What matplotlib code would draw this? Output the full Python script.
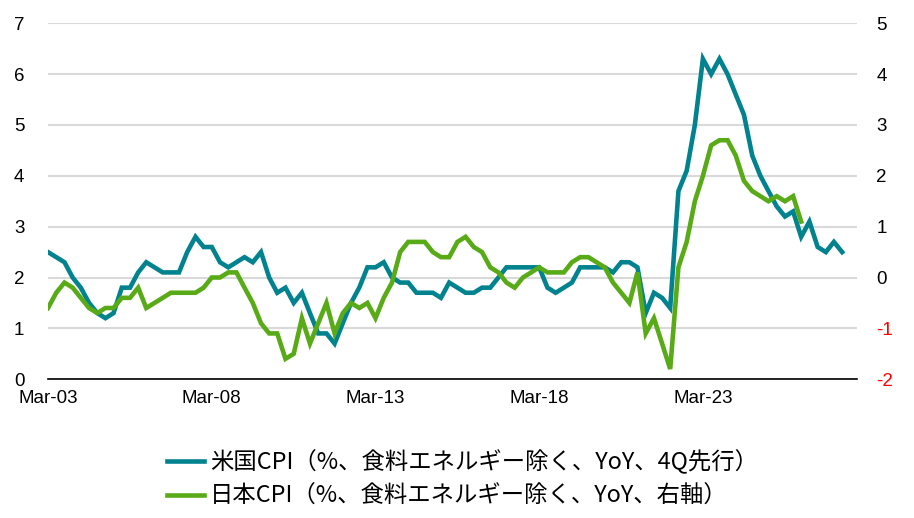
import numpy as np
import pandas as pd
import matplotlib
matplotlib.use("Agg")
from matplotlib import pyplot as plt
import matplotlib.dates as mdates

# 米国CPI（コア, YoY, 4四半期先行させた系列）: 2003年3月から四半期ごと
us_cpi = [2.5, 2.4, 2.3, 2.0, 1.8, 1.5, 1.3, 1.2, 1.3, 1.8,
          1.8, 2.1, 2.3, 2.2, 2.1, 2.1, 2.1, 2.5, 2.8, 2.6,
          2.6, 2.3, 2.2, 2.3, 2.4, 2.3, 2.5, 2.0, 1.7, 1.8,
          1.5, 1.7, 1.3, 0.9, 0.9, 0.7, 1.1, 1.5, 1.8, 2.2,
          2.2, 2.3, 2.0, 1.9, 1.9, 1.7, 1.7, 1.7, 1.6, 1.9,
          1.8, 1.7, 1.7, 1.8, 1.8, 2.0, 2.2, 2.2, 2.2, 2.2,
          2.2, 1.8, 1.7, 1.8, 1.9, 2.2, 2.2, 2.2, 2.2, 2.1,
          2.3, 2.3, 2.2, 1.3, 1.7, 1.6, 1.4, 3.7, 4.1, 5.0,
          6.3, 6.0, 6.3, 6.0, 5.6, 5.2, 4.4, 4.0, 3.7, 3.4,
          3.2, 3.3, 2.8, 3.1, 2.6, 2.5, 2.7, 2.5]

# 日本CPI（コア, YoY, 右軸）
jp_cpi = [-0.6, -0.3, -0.1, -0.2, -0.4, -0.6, -0.7, -0.6, -0.6, -0.4,
          -0.4, -0.2, -0.6, -0.5, -0.4, -0.3, -0.3, -0.3, -0.3, -0.2,
          0.0, 0.0, 0.1, 0.1, -0.2, -0.5, -0.9, -1.1, -1.1, -1.6,
          -1.5, -0.8, -1.3, -0.9, -0.5, -1.1, -0.7, -0.5, -0.6, -0.5,
          -0.8, -0.4, -0.1, 0.5, 0.7, 0.7, 0.7, 0.5, 0.4, 0.4,
          0.7, 0.8, 0.6, 0.5, 0.2, 0.1, -0.1, -0.2, 0.0, 0.1,
          0.2, 0.1, 0.1, 0.1, 0.3, 0.4, 0.4, 0.3, 0.2, -0.1,
          -0.3, -0.5, 0.1, -1.1, -0.8, -1.3, -1.8, 0.2, 0.7, 1.5,
          2.0, 2.6, 2.7, 2.7, 2.4, 1.9, 1.7, 1.6, 1.5, 1.6,
          1.5, 1.6, 1.1]

dates = pd.date_range("2003-03-01", periods=len(us_cpi), freq="3MS")
tick_dates = pd.to_datetime(["2003-03-01", "2008-03-01", "2013-03-01",
                             "2018-03-01", "2023-03-01"])
left_ticks = [0, 1, 2, 3, 4, 5, 6, 7]
right_ticks = [-2, -1, 0, 1, 2, 3, 4, 5]

label_us = "米国CPI（%、食料エネルギー除く、YoY、4Q先行）"
label_jp = "日本CPI（%、食料エネルギー除く、YoY、右軸）"

col_us = "#00838f"
col_jp = "#58ab17"

plt.rcParams["axes.unicode_minus"] = False

fig = plt.figure(figsize=(9.14, 5.18), dpi=100)
ax = fig.add_axes([0.0525, 0.268, 0.885, 0.687])
ax2 = ax.twinx()

l1, = ax.plot(dates, us_cpi, color=col_us, lw=3.3, solid_joinstyle="miter",
              label=label_us)
l2, = ax2.plot(dates[:len(jp_cpi)], jp_cpi, color=col_jp, lw=3.3,
               solid_joinstyle="miter", label=label_jp)

ax.set_ylim(0, 7)
ax2.set_ylim(-2, 5)
ax.set_yticks(left_ticks)
ax2.set_yticks(right_ticks)

# x軸の右端は最後のデータより少し先まで
step = (dates[-1] - dates[0]) / (len(dates) - 1)
ax.set_xlim(dates[0], dates[0] + step * 98.8)
ax.set_xticks(tick_dates)
ax.xaxis.set_major_formatter(mdates.DateFormatter("%b-%y"))

ax.grid(axis="y", color="#d9d9d9", lw=1.5)
ax.set_axisbelow(True)
for a in (ax, ax2):
    for s in ("top", "left", "right", "bottom"):
        a.spines[s].set_visible(False)
ax.spines["bottom"].set_visible(True)
ax.spines["bottom"].set_color("black")
ax.spines["bottom"].set_linewidth(1.2)

ax.tick_params(axis="both", length=0)
ax2.tick_params(axis="both", length=0)
ax.tick_params(axis="y", pad=17)
ax.tick_params(axis="x", pad=8)
ax2.tick_params(axis="y", pad=14)
for t in ax.get_xticklabels() + ax.get_yticklabels():
    t.set_fontfamily("Liberation Sans")
    t.set_fontsize(13.5)
for t, v in zip(ax2.get_yticklabels(), right_ticks):
    t.set_fontfamily("Liberation Sans")
    t.set_fontsize(13.5)
    t.set_color("red" if v < 0 else "black")

fig.legend(handles=[l1, l2], loc="upper center", bbox_to_anchor=(0.506, 0.15),
           frameon=False, ncol=1, handlelength=1.6, handletextpad=0.25,
           labelspacing=0.45, borderaxespad=0,
           prop=dict(family=["Noto Sans CJK JP", "DejaVu Sans"], size=16.8))

fig.savefig("out.png", dpi=100)
